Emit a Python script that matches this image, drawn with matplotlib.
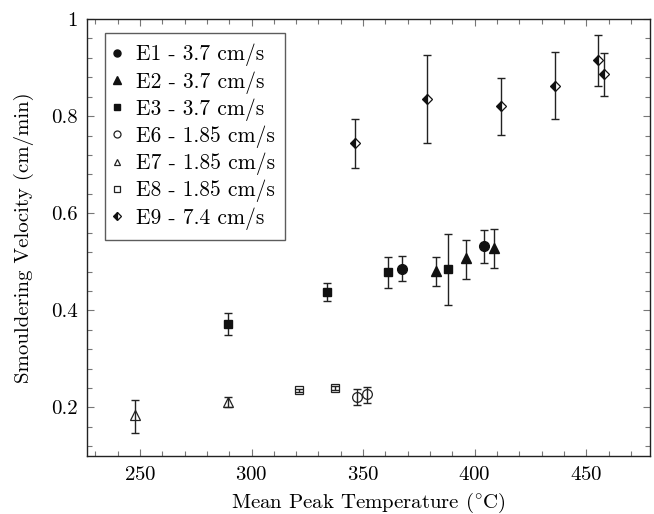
import matplotlib
matplotlib.use("Agg")
import matplotlib.pyplot as plt
from matplotlib.lines import Line2D
import numpy as np

plt.rcParams['font.family'] = ['cmr10', 'DejaVu Serif']
plt.rcParams['mathtext.fontset'] = 'cm'
plt.rcParams['axes.formatter.use_mathtext'] = True

# ---- data ----
E1_T = [367.5, 404.0]
E1_v = [0.485, 0.533]
E1_lo = [0.460, 0.498]
E1_hi = [0.511, 0.566]

E2_T = [382.5, 396.0, 408.5]
E2_v = [0.481, 0.507, 0.528]
E2_lo = [0.451, 0.464, 0.487]
E2_hi = [0.509, 0.545, 0.567]

E3_T = [289.5, 334.0, 361.0, 388.0]
E3_v = [0.372, 0.438, 0.478, 0.485]
E3_lo = [0.349, 0.419, 0.447, 0.410]
E3_hi = [0.395, 0.457, 0.509, 0.557]

E6_T = [347.3, 351.9]
E6_v = [0.221, 0.227]
E6_lo = [0.205, 0.209]
E6_hi = [0.237, 0.243]

E7_T = [247.8, 289.5]
E7_v = [0.184, 0.211]
E7_lo = [0.148, 0.200]
E7_hi = [0.215, 0.222]

E8_T = [321.3, 337.4]
E8_v = [0.235, 0.240]
E8_lo = [0.231, 0.236]
E8_hi = [0.239, 0.244]

E9_T = [346.3, 378.8, 412.0, 435.8, 455.1, 457.8]
E9_v = [0.744, 0.836, 0.820, 0.863, 0.916, 0.887]
E9_lo = [0.693, 0.745, 0.761, 0.794, 0.863, 0.841]
E9_hi = [0.795, 0.926, 0.878, 0.932, 0.968, 0.931]

labels = ['E1 - 3.7 cm/s', 'E2 - 3.7 cm/s', 'E3 - 3.7 cm/s',
          'E6 - 1.85 cm/s', 'E7 - 1.85 cm/s', 'E8 - 1.85 cm/s', 'E9 - 7.4 cm/s']

x_ticks = [250, 300, 350, 400, 450]
y_ticks = [0.2, 0.4, 0.6, 0.8, 1.0]
y_ticklabels = ['0.2', '0.4', '0.6', '0.8', '1']

series = [
    (E1_T, E1_v, E1_lo, E1_hi, dict(marker='o', ms=7.0, mfc='#111', mec='#111')),
    (E2_T, E2_v, E2_lo, E2_hi, dict(marker='^', ms=7.2, mfc='#111', mec='#111')),
    (E3_T, E3_v, E3_lo, E3_hi, dict(marker='s', ms=6.4, mfc='#111', mec='#111')),
    (E6_T, E6_v, E6_lo, E6_hi, dict(marker='o', ms=7.0, mfc='none', mec='#222', mew=0.9)),
    (E7_T, E7_v, E7_lo, E7_hi, dict(marker='^', ms=6.5, mfc='none', mec='#222', mew=0.9)),
    (E8_T, E8_v, E8_lo, E8_hi, dict(marker='s', ms=6.2, mfc='none', mec='#222', mew=0.9)),
    (E9_T, E9_v, E9_lo, E9_hi, dict(marker='D', ms=5.6, mfc='#111', mec='#111',
                                     fillstyle='left', markerfacecoloralt='white', mew=0.9)),
]

FS = 15

fig = plt.figure(figsize=(6.54, 5.14), dpi=100)
ax = fig.add_axes([0.1335, 0.1128, 0.9939 - 0.1335, 0.963 - 0.1128])

handles = []
for (T, v, lo, hi, st), lab in zip(series, labels):
    v = np.array(v)
    yerr = np.vstack([v - np.array(lo), np.array(hi) - v])
    ax.errorbar(T, v, yerr=yerr, fmt='none', ecolor='#222', elinewidth=1.0,
                capsize=3.2, capthick=1.0, zorder=2)
    ax.plot(T, v, linestyle='none', zorder=3, **st)
    st_leg = dict(st)
    st_leg['ms'] = st['ms'] * 0.72
    handles.append(Line2D([], [], linestyle='none', **st_leg))

ax.set_xlim(226.4, 478.6)
ax.set_ylim(0.1, 1.0)
ax.set_xticks(x_ticks)
ax.set_xticks(np.arange(230, 480, 10), minor=True)
ax.set_yticks(y_ticks)
ax.set_yticklabels(y_ticklabels)
ax.set_yticks(np.arange(0.12, 1.0, 0.04), minor=True)

ax.tick_params(which='both', direction='in', top=True, right=True,
               color='#777', labelsize=FS)
ax.tick_params(axis='x', pad=7)
ax.tick_params(axis='y', pad=7)
ax.tick_params(which='major', length=5, width=0.8)
ax.tick_params(which='minor', length=3.5, width=0.8)
for s in ax.spines.values():
    s.set_linewidth(1.0)
    s.set_color('#222')

ax.set_xlabel(r'Mean Peak Temperature ($^{\circ}$C)', fontsize=FS, va='center')
ax.xaxis.set_label_coords(0.5, -0.1076)
ax.set_ylabel('Smouldering Velocity (cm/min)', fontsize=FS, va='center')
ax.yaxis.set_label_coords(-0.112, 0.5)

leg = ax.legend(handles, labels, loc='upper left', bbox_to_anchor=(0.0315, 0.968),
                borderaxespad=0, fontsize=15.5, fancybox=False, frameon=True,
                edgecolor='#333', handlelength=0.1, handletextpad=0.82,
                labelspacing=0.22, borderpad=0.5, numpoints=1)
leg.get_frame().set_linewidth(1.0)

fig.savefig('out.png', dpi=100)
